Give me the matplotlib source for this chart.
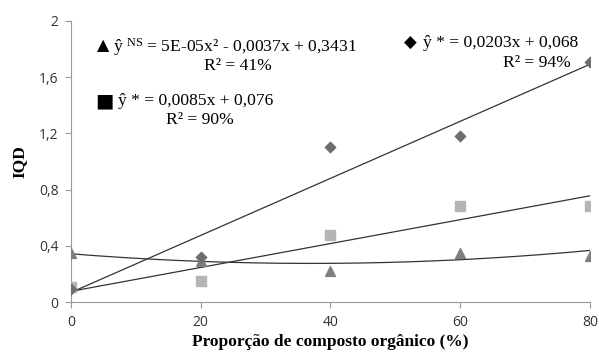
import numpy as np
import matplotlib
matplotlib.use("Agg")
import matplotlib.pyplot as plt

# Dados
doses = [0, 20, 40, 60, 80]
iqd_losango = [0.09, 0.32, 1.10, 1.18, 1.71]
iqd_quadrado = [0.11, 0.15, 0.48, 0.68, 0.68]
iqd_triangulo = [0.35, 0.29, 0.22, 0.35, 0.33]

# Coeficientes das equacoes mostradas (c0, c1, c2)
coef_losango = [0.068, 0.0203, 0.0]
coef_quadrado = [0.076, 0.0085, 0.0]
coef_triangulo = [0.3431, -0.0037, 5e-05]

y_ticks = [0, 0.4, 0.8, 1.2, 1.6, 2.0]
y_labels = ["0", "0,4", "0,8", "1,2", "1,6", "2"]

plt.rcParams["mathtext.fontset"] = "custom"
plt.rcParams["mathtext.rm"] = "Liberation Serif"
plt.rcParams["mathtext.it"] = "Liberation Serif:italic"

SERIF = "Liberation Serif"
SANS = "Open Sans"

fig = plt.figure(figsize=(5.99, 3.58), dpi=100)
ax = fig.add_axes([0.1185, 0.1564, 0.8665, 0.785])

xs = np.linspace(0, 80, 200)
for coef in (coef_losango, coef_quadrado, coef_triangulo):
    ax.plot(xs, coef[0] + coef[1] * xs + coef[2] * xs ** 2, color="#333333", lw=0.9, zorder=2)

ax.scatter(doses, iqd_quadrado, marker="s", s=45, color="#b5b5b5", zorder=3)
ax.scatter(doses, iqd_triangulo, marker="^", s=50, color="#7f7f7f", zorder=3)
ax.scatter(doses, iqd_losango, marker="D", s=28, color="#6e6e6e", zorder=3)

ax.set_xlim(0, 80)
ax.set_ylim(0, 2)
ax.set_xticks(doses)
ax.set_yticks(y_ticks)
ax.set_yticklabels(y_labels)
for lab in ax.get_xticklabels() + ax.get_yticklabels():
    lab.set_fontfamily(SANS)
    lab.set_fontsize(10)
    lab.set_color("#333333")
ax.tick_params(direction="out", length=4, color="#999999", width=0.8, pad=5)
ax.spines["top"].set_visible(False)
ax.spines["right"].set_visible(False)
ax.spines["left"].set_color("#999999")
ax.spines["bottom"].set_color("#999999")

ax.set_ylabel("IQD", fontfamily=SERIF, fontweight="bold", fontsize=12.5, labelpad=8)
ax.set_xlabel("Proporção de composto orgânico (%)", fontfamily=SERIF,
              fontweight="bold", fontsize=12.5, labelpad=3)

fs = 12.6
fig.text(103 / 599, 1 - 46 / 358, "\u25b2", fontsize=11.5, ha="center", va="center", color="black")
fig.text(113 / 599, 1 - 47 / 358, r"ŷ $^{\rm NS}$ = 5E-05x² - 0,0037x + 0,3431",
         fontfamily=SERIF, fontsize=fs, ha="left", va="center")
fig.text(238 / 599, 1 - 66 / 358, "R² = 41%", fontfamily=SERIF, fontsize=fs, ha="center", va="center")

fig.text(104 / 599, 1 - 101 / 358, "\u25a0", fontsize=14, ha="center", va="center", color="black")
fig.text(118 / 599, 1 - 101 / 358, "ŷ * = 0,0085x + 0,076",
         fontfamily=SERIF, fontsize=fs, ha="left", va="center")
fig.text(200 / 599, 1 - 120 / 358, "R² = 90%", fontfamily=SERIF, fontsize=fs, ha="center", va="center")

fig.text(410 / 599, 1 - 43 / 358, "\u25c6", fontsize=12, ha="center", va="center", color="black")
fig.text(423 / 599, 1 - 43 / 358, "ŷ * = 0,0203x + 0,068",
         fontfamily=SERIF, fontsize=fs, ha="left", va="center")
fig.text(537 / 599, 1 - 63 / 358, "R² = 94%", fontfamily=SERIF, fontsize=fs, ha="center", va="center")

fig.savefig("out.png", dpi=100)
